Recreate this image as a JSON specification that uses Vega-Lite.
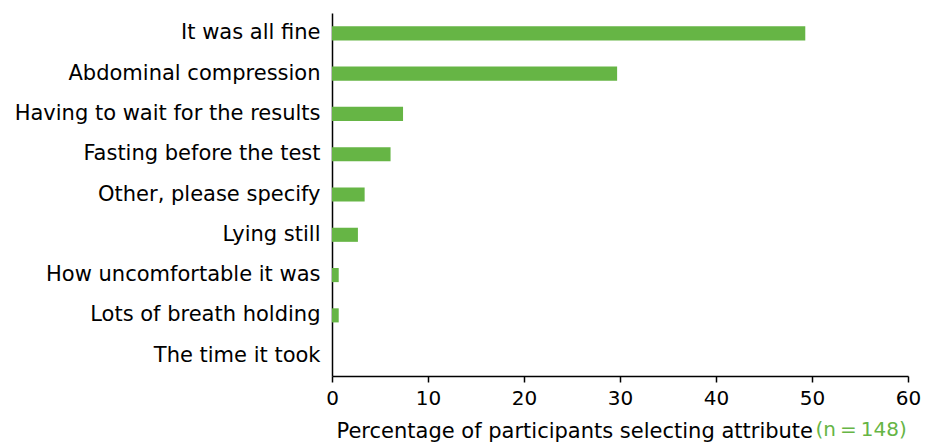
{
  "$schema": "https://vega.github.io/schema/vega-lite/v6.json",
  "width": 576,
  "height": 363,
  "autosize": {"type": "none"},
  "padding": {"left": 332, "top": 13, "right": 17, "bottom": 68},
  "background": "white",
  "config": {
    "view": {"stroke": null},
    "font": "DejaVu Sans",
    "axis": {"domainColor": "black", "tickColor": "black", "labelColor": "black", "titleColor": "black", "grid": false, "labelFont": "DejaVu Sans", "titleFont": "DejaVu Sans", "titleFontWeight": "normal"}
  },
  "title": {
    "text": "(n\u2009=\u2009148)",
    "orient": "bottom",
    "anchor": "end",
    "color": "#66B545",
    "fontSize": 20,
    "fontWeight": "normal",
    "font": "DejaVu Sans",
    "offset": -21,
    "dx": -14
  },
  "data": {
    "values": [
      {"attribute": "It was all fine", "pct": 49.3},
      {"attribute": "Abdominal compression", "pct": 29.7},
      {"attribute": "Having to wait for the results", "pct": 7.4},
      {"attribute": "Fasting before the test", "pct": 6.1},
      {"attribute": "Other, please specify", "pct": 3.4},
      {"attribute": "Lying still", "pct": 2.7},
      {"attribute": "How uncomfortable it was", "pct": 0.7},
      {"attribute": "Lots of breath holding", "pct": 0.7},
      {"attribute": "The time it took", "pct": 0}
    ]
  },
  "mark": {"type": "bar", "color": "#66B545"},
  "encoding": {
    "y": {
      "field": "attribute",
      "type": "nominal",
      "sort": null,
      "scale": {"paddingInner": 0.65, "paddingOuter": 0.33},
      "axis": {"title": null, "ticks": false, "labelFontSize": 21, "labelPadding": 12, "domainWidth": 1.5, "labelLimit": 400}
    },
    "x": {
      "field": "pct",
      "type": "quantitative",
      "scale": {"domain": [0, 60], "nice": false},
      "axis": {
        "values": [0, 10, 20, 30, 40, 50, 60],
        "title": "Percentage of participants selecting attribute",
        "titleFontSize": 21,
        "titleAnchor": "start",
        "titleX": 4,
        "titlePadding": 12,
        "labelFontSize": 20,
        "labelPadding": 6,
        "tickSize": 6,
        "domainWidth": 1.5,
        "tickWidth": 1.5,
        "labelFlush": false
      }
    }
  }
}
